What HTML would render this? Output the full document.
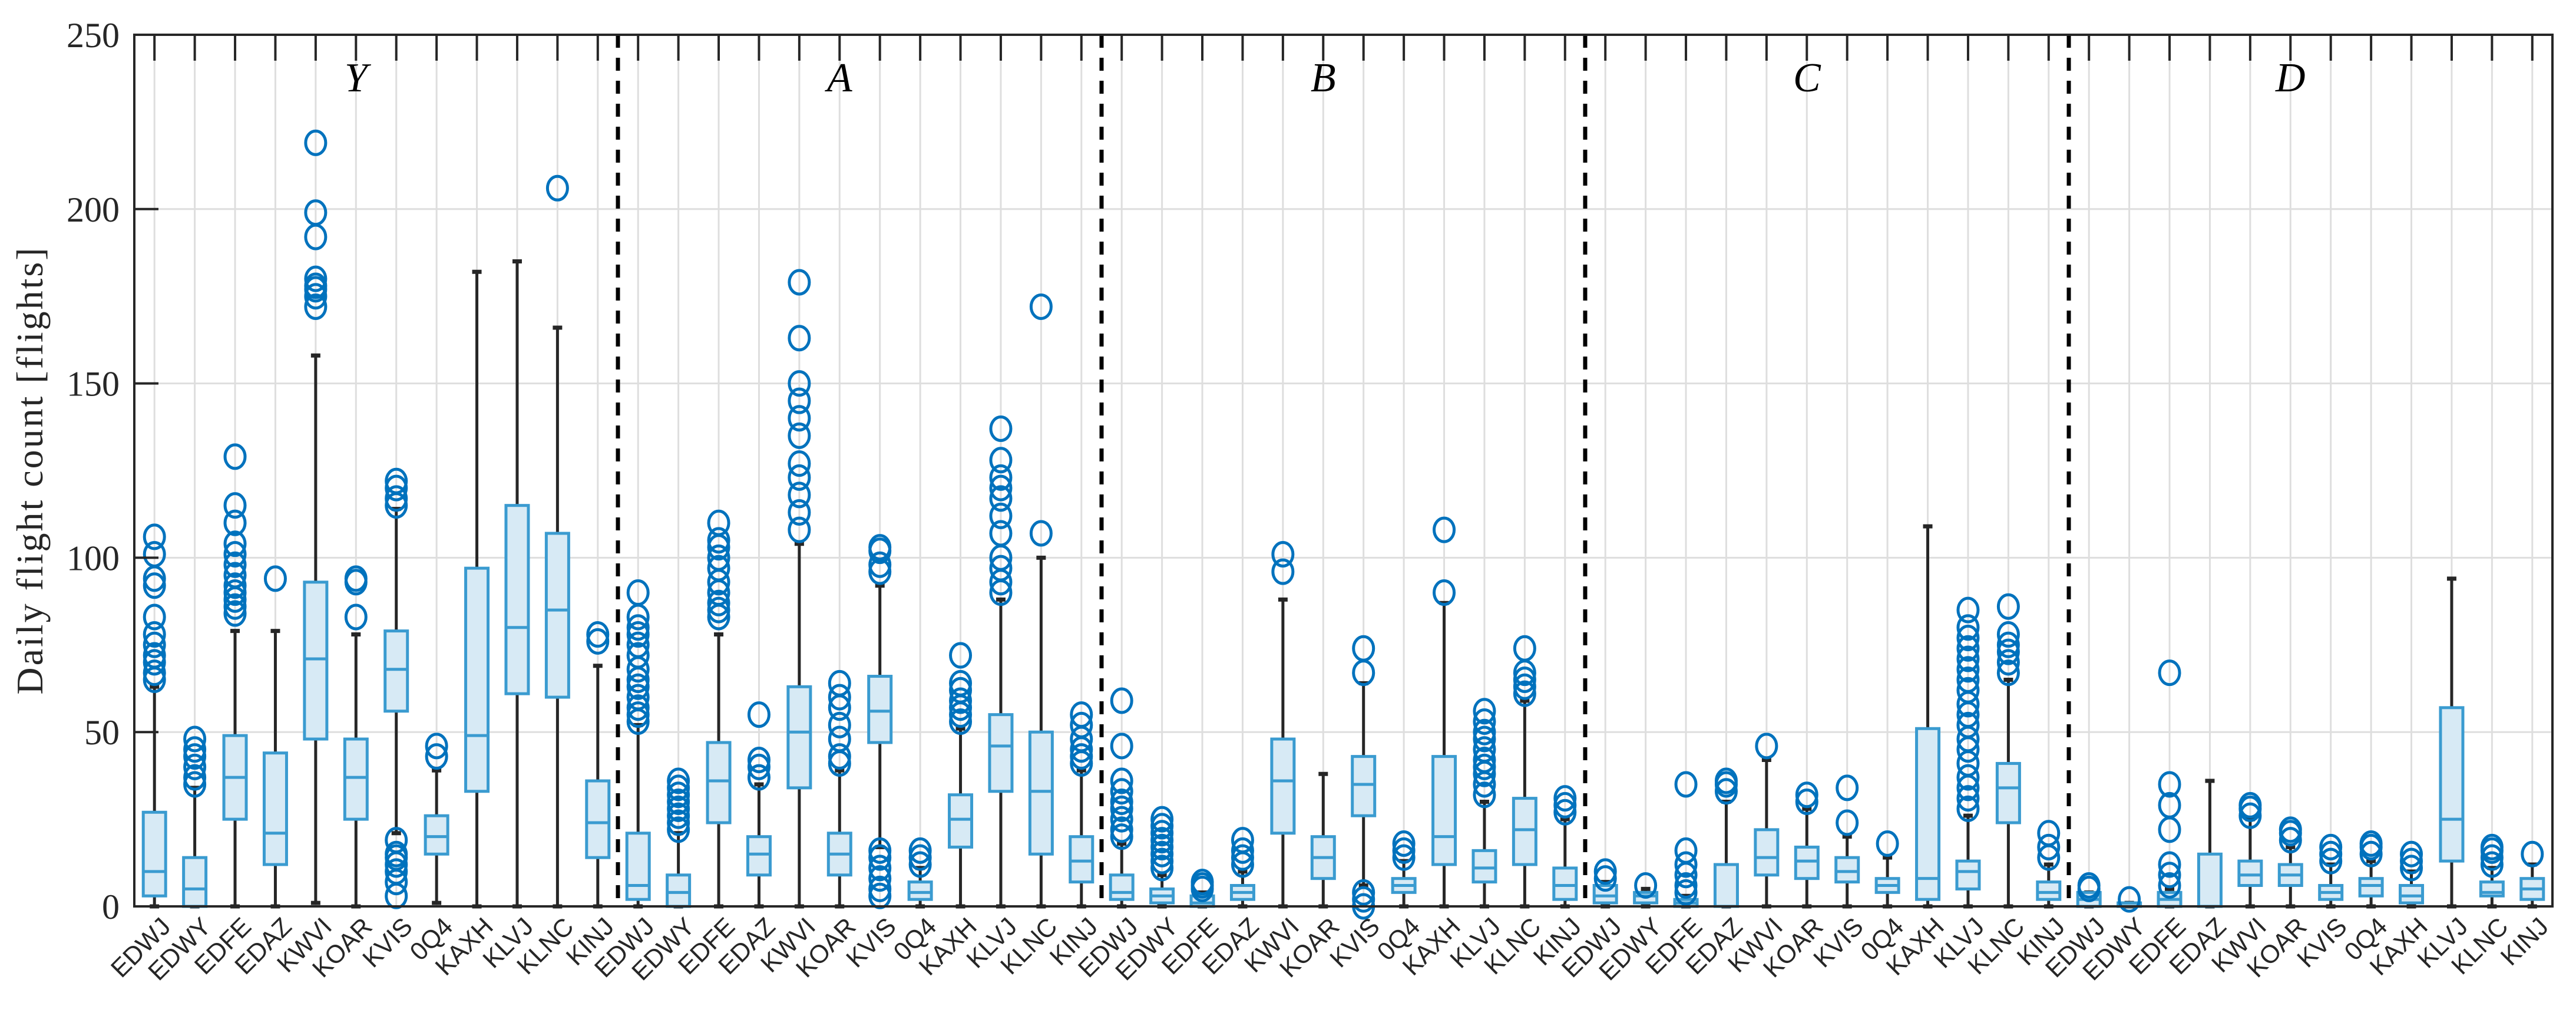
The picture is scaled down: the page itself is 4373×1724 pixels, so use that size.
<!DOCTYPE html>
<html><head><meta charset="utf-8"><style>
html,body{margin:0;padding:0;background:#fff;}
svg{display:block;}
</style></head><body>
<svg id="chart" width="4373" height="1724" viewBox="0 0 4373 1724" xmlns="http://www.w3.org/2000/svg">
<rect width="4373" height="1724" fill="#fff"/>
<g id="grid"></g>
<g id="marks"></g>
<g id="axes"></g>
<text transform="translate(72,798) rotate(-90)" text-anchor="middle" font-family="Liberation Serif, serif" font-size="64" letter-spacing="3" fill="#262626">Daily flight count [flights]</text>
</svg>
<script>
const groups = ['Y','A','B','C','D'];
const airports = ['EDWJ','EDWY','EDFE','EDAZ','KWVI','KOAR','KVIS','0Q4','KAXH','KLVJ','KLNC','KINJ'];
const yTicks = [0,50,100,150,200,250];
// per box: [whiskerLow, q1, median, q3, whiskerHigh]
const stats = [
 [0,3,10,27,63],[0,0,5,14,34],[0,25,37,49,79],[0,12,21,44,79],[1,48,71,93,158],[0,25,37,48,78],
 [21,56,68,79,114],[1,15,20,26,39],[0,33,49,97,182],[0,61,80,115,185],[0,60,85,107,166],[0,14,24,36,69],
 [0,2,6,21,52],[0,0,4,9,21],[0,24,36,47,78],[0,9,15,20,35],[0,34,50,63,104],[0,9,15,21,39],
 [17,47,56,66,92],[0,2,4,7,11],[0,17,25,32,51],[0,33,46,55,88],[0,15,33,50,100],[0,7,13,20,39],
 [0,2,4,9,18],[0,1,3,5,9],[0,0,1,3,4],[0,2,4,6,10],[0,21,36,48,88],[0,8,14,20,38],
 [6,26,35,43,64],[0,4,6,8,13],[0,12,20,43,87],[0,7,11,16,30],[0,12,22,31,59],[0,2,6,11,25],
 [0,1,3,6,7],[0,1,3,4,5],[0,0,1,2,3],[0,0,0,12,30],[0,9,14,22,42],[0,8,13,17,28],
 [0,7,10,14,20],[0,4,6,8,14],[0,2,8,51,109],[0,5,10,13,26],[0,24,34,41,65],[0,2,4,7,12],
 [0,0,2,4,4],[0,0,1,1,1],[0,0,2,4,5],[0,0,0,15,36],[0,6,9,13,25],[0,6,9,12,17],
 [0,2,4,6,12],[0,3,6,8,13],[0,1,3,6,10],[0,13,25,57,94],[0,3,4,7,11],[0,2,5,8,12]
];
const outliers = [
 [65,67,70,72,75,78,83,92,94,101,106],[35,37,40,43,45,48],[84,86,88,90,92,95,98,101,104,110,115,129],[94],
 [172,175,177,178,180,192,199,219],[83,93,94],[3,7,10,12,14,15,19,115,117,120,122],[43,46],[],[],[206],[76,78],
 [53,55,57,60,63,65,68,72,75,78,80,83,90],[22,24,26,28,30,32,34,36],[83,85,87,90,93,97,100,103,105,110],[37,40,42,55],
 [108,113,118,123,127,135,140,145,150,163,179],[41,43,48,52,57,60,64],[3,5,8,11,14,16,96,98,102,103],[12,14,16],
 [53,55,57,59,62,64,72],[90,93,97,100,107,112,117,120,123,128,137],[107,172],[41,43,45,48,52,55],
 [20,22,25,28,30,33,36,46,59],[11,13,15,17,19,21,23,25],[5,6,7],[12,14,16,19],[96,101],[],[0,2,4,67,74],[14,16,18],
 [90,108],[32,35,38,40,42,45,48,50,53,56],[61,63,65,67,74],[27,29,31],
 [8,10],[6],[4,6,9,12,16,35],[33,35,36],[46],[30,32],[24,34],[18],[],
 [28,31,34,37,41,45,48,52,55,58,62,65,68,71,74,77,80,85],[67,70,73,75,78,86],[14,17,21],
 [5,6],[2],[6,9,12,22,29,35,67],[],[26,28,29],[19,21,22],[13,15,17],[15,17,18],[11,13,15],[],[12,14,16,17],[15]
];
const L=228,R=4333,T=59,B=1538,N=60,step=(R-L)/N;
const ns='http://www.w3.org/2000/svg';
const X=i=>L+(i+0.5)*step;
const Y=v=>B-(v/250)*(B-T);
function mk(parent,tag,attrs){const e=document.createElementNS(ns,tag);for(const k in attrs)e.setAttribute(k,attrs[k]);parent.appendChild(e);return e;}
const grid=document.getElementById('grid'),marks=document.getElementById('marks'),axes=document.getElementById('axes');
for(let i=0;i<N;i++){const g=mk(grid,'line',{x1:X(i),x2:X(i),y1:T,y2:B,stroke:'#dedede','stroke-width':3});

}
yTicks.forEach(t=>{const g=mk(grid,'line',{x1:L,x2:R,y1:Y(t),y2:Y(t),stroke:'#dedede','stroke-width':3});

});
for(let i=0;i<N;i++){
 const s=stats[i],x=X(i),bw=38;
 const g=mk(marks,'g',{});
 
 
 mk(g,'line',{x1:x,x2:x,y1:Y(s[0]),y2:Y(s[1]),stroke:'#262626','stroke-width':5});
 mk(g,'line',{x1:x,x2:x,y1:Y(s[3]),y2:Y(s[4]),stroke:'#262626','stroke-width':5});
 mk(g,'line',{x1:x-8,x2:x+8,y1:Y(s[0]),y2:Y(s[0]),stroke:'#262626','stroke-width':7});
 mk(g,'line',{x1:x-8,x2:x+8,y1:Y(s[4]),y2:Y(s[4]),stroke:'#262626','stroke-width':7});
 mk(g,'rect',{x:x-bw/2,y:Y(s[3]),width:bw,height:Math.max(Y(s[1])-Y(s[3]),2),fill:'#d7eaf5',stroke:'#3a9bd0','stroke-width':5});
 mk(g,'line',{x1:x-bw/2,x2:x+bw/2,y1:Y(s[2]),y2:Y(s[2]),stroke:'#3a9bd0','stroke-width':5});
 outliers[i].forEach(v=>{const c=mk(g,'ellipse',{cx:x,cy:Y(v),rx:17,ry:20,fill:'none',stroke:'#0072bd','stroke-width':5});
 
 });
}
for(let k=1;k<5;k++){const d=mk(axes,'line',{x1:L+12*k*step,x2:L+12*k*step,y1:T,y2:B,stroke:'#000','stroke-width':7,'stroke-dasharray':'22,17'});

}
groups.forEach((gname,k)=>{const t=mk(axes,'text',{x:L+(12*k+5.5)*step,y:155,'text-anchor':'middle','font-family':'Liberation Serif, serif','font-style':'italic','font-size':70,fill:'#000'});
t.textContent=gname;

});
const f=mk(axes,'rect',{x:L,y:T,width:R-L,height:B-T,fill:'none',stroke:'#262626','stroke-width':4});


for(let i=0;i<N;i++){
 mk(axes,'line',{x1:X(i),x2:X(i),y1:T,y2:T+44,stroke:'#262626','stroke-width':4});
 const t=mk(axes,'text',{x:0,y:0,transform:`translate(${X(i)+30},1575) rotate(-45)`,'text-anchor':'end','font-family':'Liberation Sans, sans-serif','font-size':43,fill:'#262626'});
 t.textContent=airports[i%12];
 
 
}
yTicks.forEach(v=>{
 mk(axes,'line',{x1:L,x2:L+41,y1:Y(v),y2:Y(v),stroke:'#262626','stroke-width':4});
 const t=mk(axes,'text',{x:203,y:Y(v)+21,'text-anchor':'end','font-family':'Liberation Serif, serif','font-size':60,fill:'#262626'});
 t.textContent=v;
 
 
});
</script>
</body></html>
